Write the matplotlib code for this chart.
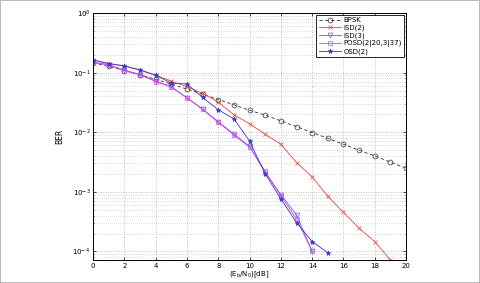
import matplotlib
matplotlib.use("Agg")
import matplotlib.pyplot as plt
from matplotlib.ticker import LogLocator, FixedLocator

snr = list(range(0, 21))
bpsk = [0.146, 0.127, 0.1085, 0.0919, 0.0772, 0.0642, 0.053, 0.0435, 0.0354, 0.0288,
        0.0233, 0.0194, 0.0155, 0.0124, 0.0099, 0.0079, 0.0063, 0.0050, 0.0040, 0.00315, 0.0025]

snr_isd2 = list(range(0, 20))
isd2 = [0.163, 0.142, 0.128, 0.110, 0.090, 0.072, 0.058, 0.045, 0.032, 0.0196,
        0.0139, 0.0092, 0.0063, 0.0031, 0.00178, 8.4e-4, 4.55e-4, 2.45e-4, 1.47e-4, 7.2e-5]

snr_isd3 = list(range(0, 15))
isd3 = [0.150, 0.136, 0.110, 0.093, 0.072, 0.058, 0.038, 0.0245, 0.0150, 0.0093,
        0.0058, 0.0021, 9.0e-4, 4.1e-4, 1.0e-4]

snr_posd = list(range(0, 15))
posd = [0.148, 0.134, 0.108, 0.0917, 0.071, 0.057, 0.0375, 0.0242, 0.0146, 0.0090,
        0.0056, 0.0022, 8.5e-4, 3.5e-4, 1.0e-4]

snr_osd = list(range(0, 16))
osd = [0.163, 0.142, 0.130, 0.111, 0.0905, 0.0666, 0.0645, 0.0383, 0.0238, 0.0168,
       0.0071, 0.0020, 7.6e-4, 3.05e-4, 1.47e-4, 9.5e-5]

xticks = [0, 2, 4, 6, 8, 10, 12, 14, 16, 18, 20]

fig = plt.figure(figsize=(4.8, 2.83), dpi=100)
fig.patch.set_edgecolor("#bbbbbb")
fig.patch.set_linewidth(1.2)
ax = fig.add_axes([0.194, 0.080, 0.652, 0.874])

ax.semilogy(snr, bpsk, linestyle=(0, (4, 3)), color="#333333", marker="o", mfc="none",
            ms=3.5, lw=0.6, mew=0.5, label="BPSK")
ax.semilogy(snr_isd2, isd2, color="#e8473a", marker="x", ms=2.5, lw=0.6, mew=0.5,
            label="ISD(2)")
ax.semilogy(snr_isd3, isd3, color="#6a5cf0", marker="v", mfc="none", ms=3.5, lw=0.6,
            mew=0.5, label="ISD(3)")
ax.semilogy(snr_posd, posd, color="#e040e0", marker="s", mfc="none", ms=3.2, lw=0.6,
            mew=0.5, label="POSD(2|20,3|37)")
ax.semilogy(snr_osd, osd, color="#3838d0", marker="*", ms=3.5, lw=0.6, mew=0.5,
            label="OSD(2)")

ax.set_xlim(0, 20)
ax.set_ylim(7.1e-5, 1)
ax.xaxis.set_major_locator(FixedLocator(xticks))
ax.set_xticklabels([str(t) for t in xticks])
ax.yaxis.set_major_locator(LogLocator(base=10, numticks=10))
ax.yaxis.set_minor_locator(LogLocator(base=10, subs=range(2, 10), numticks=20))
ax.tick_params(which="both", direction="in", top=True, right=True, labelsize=5,
               length=2, width=0.5, pad=2)
ax.tick_params(which="minor", length=1)
ax.grid(True, which="major", linestyle=(0, (1, 2)), color="#aaaaaa", lw=0.6)
ax.grid(True, which="minor", axis="y", linestyle=(0, (1, 2)), color="#bbbbbb", lw=0.5)
for s in ax.spines.values():
    s.set_linewidth(0.7)

ax.set_xlabel(r"$(\mathrm{E_b/N_0})[\mathrm{dB}]$", fontsize=5, labelpad=0.5)
ax.set_ylabel("BER", fontsize=5.5, labelpad=6)

leg = ax.legend(loc="upper right", fontsize=5, frameon=True, fancybox=False,
                edgecolor="black", framealpha=1, borderpad=0.3, labelspacing=0.2,
                handlelength=3.2, handletextpad=0.4, borderaxespad=0.3)
leg.get_frame().set_linewidth(0.6)

fig.savefig("out.png", dpi=100)
